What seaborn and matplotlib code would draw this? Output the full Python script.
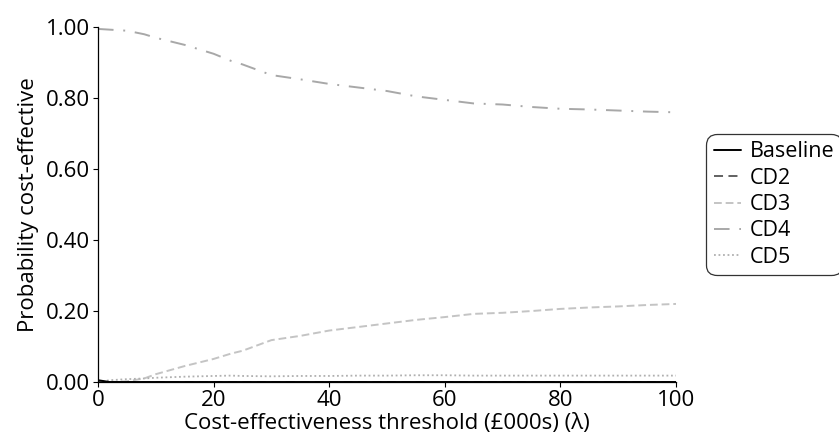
import numpy as np
import pandas as pd
import matplotlib
matplotlib.use("Agg")
import matplotlib.pyplot as plt
import seaborn as sns

# threshold values (£000s)
thresholds = [0, 2, 5, 8, 10, 15, 20, 23, 25, 30, 35, 40, 45, 50, 55, 60, 65, 70, 75, 80, 85, 90, 95, 100]

baseline = [0.005, 0.0, 0, 0, 0, 0, 0, 0, 0, 0, 0, 0, 0, 0, 0, 0, 0, 0, 0, 0, 0, 0, 0, 0]
cd2 = [0.0] * len(thresholds)
cd3 = [0.0, 0.0, 0.002, 0.01, 0.022, 0.045, 0.065, 0.08, 0.088, 0.118, 0.13, 0.145, 0.155, 0.165, 0.175, 0.183,
       0.192, 0.195, 0.2, 0.206, 0.21, 0.213, 0.217, 0.22]
cd4 = [0.995, 0.993, 0.99, 0.98, 0.97, 0.95, 0.925, 0.905, 0.895, 0.865, 0.853, 0.84, 0.83, 0.82, 0.805, 0.795,
       0.785, 0.782, 0.775, 0.77, 0.768, 0.765, 0.762, 0.76]
cd5 = [0.0, 0.005, 0.008, 0.01, 0.012, 0.015, 0.017, 0.018, 0.017, 0.016, 0.017, 0.017, 0.018, 0.018, 0.019,
       0.019, 0.018, 0.018, 0.018, 0.018, 0.018, 0.018, 0.018, 0.018]

sns.set_style("white")
plt.rcParams['font.family'] = ['Open Sans', 'DejaVu Sans']
plt.rcParams['text.color'] = 'black'
plt.rcParams['axes.labelcolor'] = 'black'
plt.rcParams['xtick.color'] = 'black'
plt.rcParams['ytick.color'] = 'black'

df = pd.DataFrame({"x": thresholds, "Baseline": baseline, "CD2": cd2, "CD3": cd3, "CD4": cd4, "CD5": cd5})
long = df.melt(id_vars="x", var_name="strategy", value_name="p")

styles = {
    "Baseline": dict(color="black", ls="-", lw=1.4),
    "CD2": dict(color="#555555", ls=(0, (5, 3)), lw=1.3),
    "CD3": dict(color="#c4c4c4", ls=(0, (4, 2)), lw=1.4),
    "CD4": dict(color="#a8a8a8", ls=(0, (8, 5, 1, 5)), lw=1.4),
    "CD5": dict(color="#b0b0b0", ls=(0, (1, 1.5)), lw=1.3),
}

fig = plt.figure(figsize=(8.39, 4.43), dpi=100)
ax = fig.add_axes([0.1168, 0.1377, 0.689, 0.801])

for name in ["CD4", "CD3", "CD5", "CD2", "Baseline"]:
    st = styles[name]
    sns.lineplot(data=long[long.strategy == name], x="x", y="p", ax=ax, color=st["color"],
                 linestyle=st["ls"], linewidth=st["lw"], label=name)

ax.set_xlim(0, 100)
ax.set_ylim(0, 1.0)
ax.set_xticks([0, 20, 40, 60, 80, 100])
ax.set_yticks([0, 0.2, 0.4, 0.6, 0.8, 1.0])
ax.set_yticklabels(["0.00", "0.20", "0.40", "0.60", "0.80", "1.00"])
ax.tick_params(axis="both", labelsize=16, length=3.5, width=0.8, pad=2, direction="out", bottom=True, left=True)
ax.set_xlabel("Cost-effectiveness threshold (£000s) (λ)", fontsize=16, labelpad=2)
ax.set_ylabel("Probability cost-effective", fontsize=16, labelpad=5)
sns.despine(ax=ax)
for s in ["left", "bottom"]:
    ax.spines[s].set_color("black")
    ax.spines[s].set_linewidth(0.9)

handles, labels = ax.get_legend_handles_labels()
order = ["Baseline", "CD2", "CD3", "CD4", "CD5"]
hmap = dict(zip(labels, handles))
leg = ax.legend([hmap[k] for k in order], order, loc="center left", bbox_to_anchor=(1.058, 0.5),
                frameon=True, fontsize=15.5, handlelength=1.25, handletextpad=0.4, borderpad=0.2,
                labelspacing=0.25, fancybox=True, borderaxespad=0.0)
leg.get_frame().set_edgecolor("black")
leg.get_frame().set_linewidth(0.9)
leg.get_frame().set_boxstyle("round,pad=0.15,rounding_size=0.5")

fig.savefig("out.png", dpi=100)
